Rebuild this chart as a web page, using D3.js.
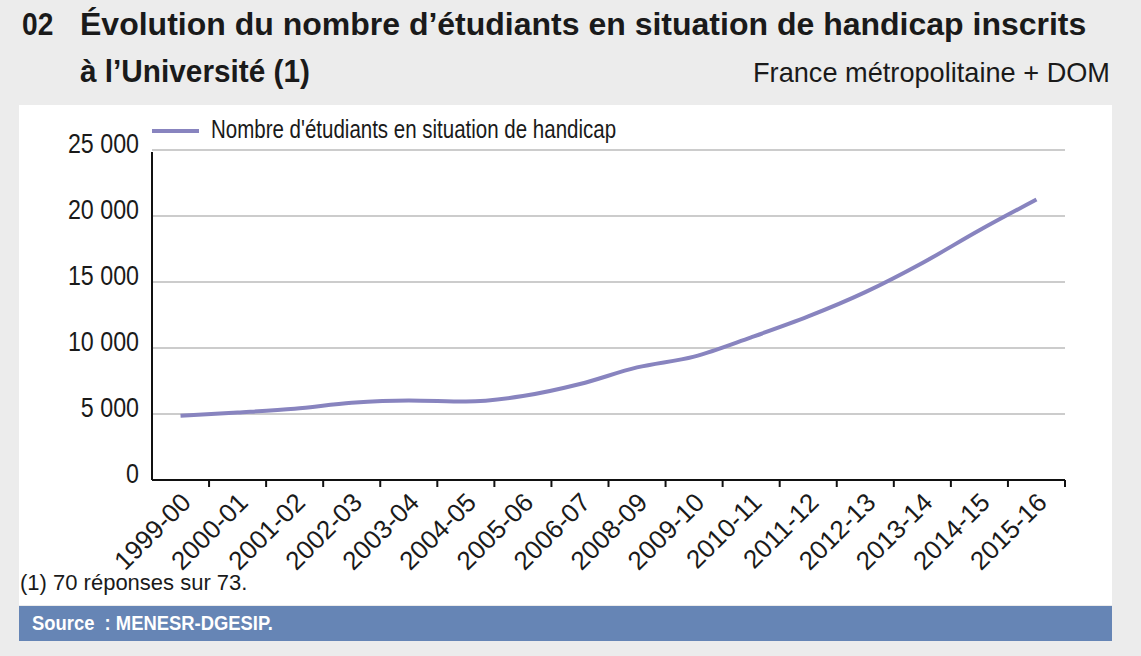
<!DOCTYPE html>
<html>
<head>
<meta charset="utf-8">
<script src="https://cdn.jsdelivr.net/npm/d3@7"></script>
<style>
  html, body { margin: 0; padding: 0; background: #ececec; }
  svg { display: block; font-family: "Liberation Sans Narrow", "Liberation Sans", Arial, sans-serif; }
</style>
</head>
<body>
<script>
// données
const annees = ["1999-00", "2000-01", "2001-02", "2002-03", "2003-04", "2004-05", "2005-06", "2006-07",
  "2008-09", "2009-10", "2010-11", "2011-12", "2012-13", "2013-14", "2014-15", "2015-16"];
const etudiants = [4860, 5110, 5400, 5850, 6030, 5950, 6360, 7270,
  8530, 9350, 10810, 12390, 14230, 16440, 18920, 21250];
const yTicks = [0, 5000, 10000, 15000, 20000, 25000];
const serieNom = "Nombre d'étudiants en situation de handicap";

const W = 1141, H = 656;
const svg = d3.select("body").append("svg").attr("width", W).attr("height", H);

// resserre un texte (police condensée absente)
function serrer(sel, k) {
  sel.each(function () {
    const l = this.getComputedTextLength();
    d3.select(this).attr("textLength", l * k).attr("lengthAdjust", "spacingAndGlyphs");
  });
}

// titre
svg.append("text").attr("x", 22).attr("y", 35).attr("font-weight", "bold").attr("font-size", 32)
  .attr("fill", "#1a1a1a").text("02").call(serrer, 0.88);
svg.append("text").attr("x", 80).attr("y", 35).attr("font-weight", "bold").attr("font-size", 32)
  .attr("fill", "#1a1a1a").text("Évolution du nombre d’étudiants en situation de handicap inscrits");
svg.append("text").attr("x", 80).attr("y", 82).attr("font-weight", "bold").attr("font-size", 32)
  .attr("fill", "#1a1a1a").text("à l’Université (1)").call(serrer, 0.93);
svg.append("text").attr("x", 753).attr("y", 82).attr("font-size", 28)
  .attr("fill", "#1a1a1a").text("France métropolitaine + DOM").call(serrer, 0.97);

// cadre blanc + bandeau source
svg.append("rect").attr("x", 19).attr("y", 105).attr("width", 1093).attr("height", 500).attr("fill", "white");
svg.append("rect").attr("x", 19).attr("y", 606).attr("width", 1093).attr("height", 35).attr("fill", "#6685b5");
svg.append("text").attr("x", 32).attr("y", 630).attr("font-weight", "bold").attr("font-size", 20)
  .attr("fill", "white").style("white-space", "pre").text("Source  : MENESR-DGESIP.").call(serrer, 0.92);
svg.append("text").attr("x", 20).attr("y", 590).attr("font-size", 22)
  .attr("fill", "#1a1a1a").text("(1) 70 réponses sur 73.");

// échelles
const x = d3.scaleBand().domain(annees).range([152, 1065]);
const y = d3.scaleLinear().domain([0, 25000]).range([480, 150]);

// grille
svg.append("g").selectAll("line").data(yTicks.filter(d => d > 0)).join("line")
  .attr("x1", 152).attr("x2", 1065)
  .attr("y1", d => y(d)).attr("y2", d => y(d))
  .attr("stroke", "#9a9a9a").attr("stroke-width", 1.2);

// axe Y
svg.append("line").attr("x1", 152).attr("x2", 152).attr("y1", y(25000) + 2).attr("y2", y(0))
  .attr("stroke", "#111").attr("stroke-width", 2);
svg.append("g").selectAll("text").data(yTicks).join("text")
  .attr("x", 139).attr("y", d => y(d) + 3)
  .attr("text-anchor", "end").attr("font-size", 28).attr("fill", "#1a1a1a")
  .text(d => d3.format(",")(d).replace(/,/g, " "))
  .call(serrer, 0.83);

// axe X
const xAxis = svg.append("g").attr("transform", "translate(0,480)");
xAxis.append("line").attr("x1", 152).attr("x2", 1065).attr("stroke", "#111").attr("stroke-width", 2);
const bornes = annees.map(a => x(a)).concat([x.range()[1]]);
xAxis.selectAll("line.tick").data(bornes.slice(1)).join("line").attr("class", "tick")
  .attr("x1", d => d).attr("x2", d => d).attr("y1", 0).attr("y2", 7)
  .attr("stroke", "#111").attr("stroke-width", 2);
xAxis.selectAll("text").data(annees).join("text")
  .attr("text-anchor", "end").attr("font-size", 26).attr("fill", "#1a1a1a")
  .attr("transform", d => `translate(${x(d) + x.bandwidth() / 2 + 12},24) rotate(-45)`)
  .text(d => d);

// courbe
const ligne = d3.line()
  .x((d, i) => x(annees[i]) + x.bandwidth() / 2)
  .y(d => y(d))
  .curve(d3.curveMonotoneX);
svg.append("path").datum(etudiants).attr("d", ligne)
  .attr("fill", "none").attr("stroke", "#8884bf").attr("stroke-width", 4);

// légende
svg.append("line").attr("x1", 152).attr("x2", 199).attr("y1", 131).attr("y2", 131)
  .attr("stroke", "#8884bf").attr("stroke-width", 4);
svg.append("text").attr("x", 211).attr("y", 138).attr("font-size", 25).attr("fill", "#1a1a1a")
  .text(serieNom).call(serrer, 0.82);
</script>
</body>
</html>
